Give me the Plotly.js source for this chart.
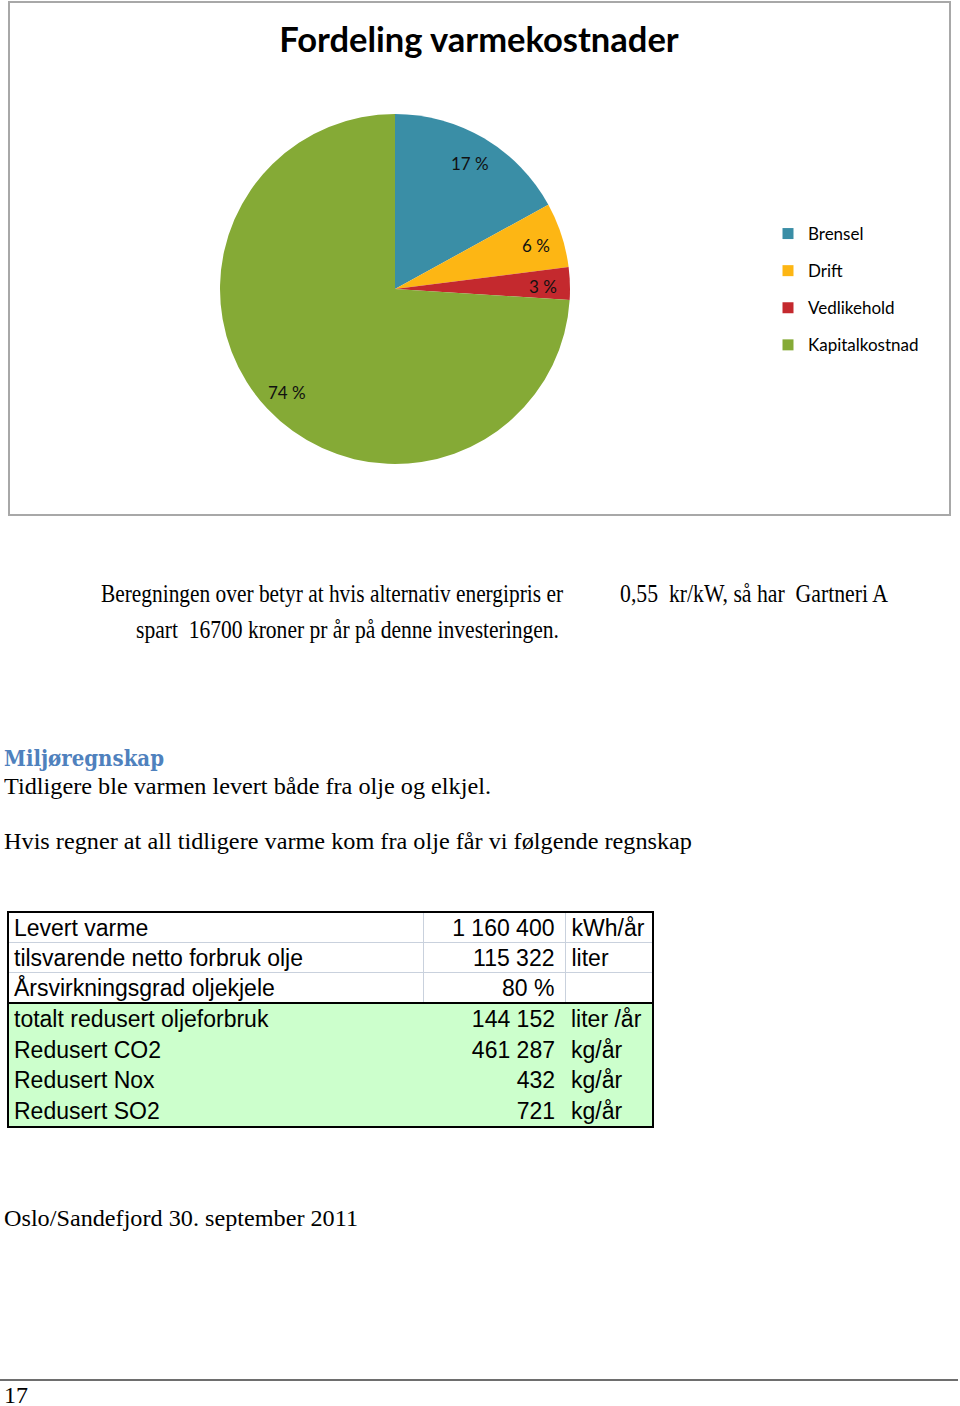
<!DOCTYPE html>
<html>
<head>
<meta charset="utf-8">
<script src="https://cdn.plot.ly/plotly-3.0.1.min.js"></script>
<style>
  html, body { margin: 0; padding: 0; background: #fff; }
  body { width: 960px; height: 1406px; position: relative; overflow: hidden; }
  #chart { position: absolute; left: 0; top: 0; width: 960px; height: 520px; }
  .t { position: absolute; white-space: pre; font-family: "Liberation Serif", "Times New Roman", serif;
       color: #000; transform-origin: 0 50%; line-height: 30px; height: 30px; }
  table.tb { position: absolute; left: 7px; top: 911px; border-collapse: collapse;
             font-family: "Liberation Sans", Arial, sans-serif; font-size: 23px; color: #000;
             border: 2px solid #000; table-layout: fixed; }
  table.tb td { padding: 0; line-height: 24px; white-space: nowrap; overflow: visible; }
  table.tb td.c1 { padding-left: 5px; text-align: left; }
  table.tb td.c2 { padding-right: 10px; text-align: right; }
  table.tb td.c3 { padding-left: 6px; text-align: left; }
  table.tb tr.w td { background: #fff; border: 1px solid #c9d1dd; height: 29px; }
  table.tb tr.w.last td { border-bottom: 2px solid #000; }
  table.tb tr.g td { background: #ccffcc; border: none; height: 30.5px; }
  #hr { position: absolute; left: 0; top: 1379px; width: 958px; height: 2px; background: #6e6e6e; }
</style>
</head>
<body>
<div id="chart"></div>

<div class="t" data-w="462" style="left:101px; top:579px; font-size:26px;">Beregningen over betyr at hvis alternativ energipris er</div>
<div class="t" data-w="423" style="left:136px; top:615px; font-size:26px;">spart  16700 kroner pr år på denne investeringen.</div>
<div class="t" data-w="268" style="left:620px; top:579px; font-size:26px;">0,55  kr/kW, så har  Gartneri A</div>

<div class="t" data-w="160" style="left:4px; top:743px; font-size:23px; font-weight:bold; color:#4f81bd; font-family:'DejaVu Serif', serif;">Miljøregnskap</div>
<div class="t" data-w="487" style="left:4px; top:771px; font-size:24px;">Tidligere ble varmen levert både fra olje og elkjel.</div>
<div class="t" data-w="688" style="left:4px; top:826px; font-size:24px;">Hvis regner at all tidligere varme kom fra olje får vi følgende regnskap</div>

<table class="tb" id="tbl">
  <colgroup><col style="width:415px"><col style="width:142px"><col style="width:88px"></colgroup>
  <tbody id="tbody"></tbody>
</table>

<div class="t" data-w="354" style="left:4px; top:1203px; font-size:24px;">Oslo/Sandefjord 30. september 2011</div>
<div id="hr"></div>
<div class="t" data-w="24" style="left:4px; top:1381px; font-size:23px;">17</div>

<script>
// ---- Chart data ----
var categories = ["Brensel", "Drift", "Vedlikehold", "Kapitalkostnad"];
var shares = [17, 6, 3, 74];
var colors = ["#3a8ea6", "#fdb614", "#c4292e", "#85aa36"];
var chartTitle = "Fordeling varmekostnader";

// ---- Table data ----
var tableLabels = ["Levert varme", "tilsvarende netto forbruk olje", "Årsvirkningsgrad oljekjele",
                   "totalt redusert oljeforbruk", "Redusert CO2", "Redusert Nox", "Redusert SO2"];
var tableValues = ["1 160 400", "115 322", "80 %", "144 152", "461 287", "432", "721"];
var tableUnits = ["kWh/år", "liter", "", "liter /år", "kg/år", "kg/år", "kg/år"];
var whiteRowCount = 3;

// Build table
var tb = document.getElementById('tbody');
for (var i = 0; i < tableLabels.length; i++) {
  var tr = document.createElement('tr');
  tr.className = i < whiteRowCount ? ('w' + (i === whiteRowCount - 1 ? ' last' : '')) : 'g';
  var c1 = document.createElement('td'); c1.className = 'c1'; c1.textContent = tableLabels[i];
  var c2 = document.createElement('td'); c2.className = 'c2'; c2.textContent = tableValues[i];
  var c3 = document.createElement('td'); c3.className = 'c3'; c3.textContent = tableUnits[i];
  tr.appendChild(c1); tr.appendChild(c2); tr.appendChild(c3);
  tb.appendChild(tr);
}

// Fit text widths
document.querySelectorAll('.t[data-w]').forEach(function (el) {
  var target = parseFloat(el.getAttribute('data-w'));
  var w = el.getBoundingClientRect().width;
  if (w > 0) el.style.transform = 'scaleX(' + (target / w) + ')';
});

// ---- Pie geometry (pixels in 960x520 chart) ----
var W = 960, H = 520;
var cx = 395, cy = 289, R = 175;
var labelRadius = 0.845;

var pie = {
  type: 'pie',
  labels: categories,
  values: shares,
  marker: { colors: colors, line: { width: 0 } },
  sort: false,
  direction: 'clockwise',
  rotation: 0,
  textinfo: 'none',
  hoverinfo: 'label+percent',
  showlegend: false,
  domain: { x: [(cx - R) / W, (cx + R) / W], y: [(H - cy - R) / H, (H - cy + R) / H] }
};

// Legend entries (one per category, so the entries can be spaced like the original)
var legendTraces = categories.map(function (c, i) {
  return {
    type: 'scatter', mode: 'markers', x: [null], y: [null], name: c,
    legendgroup: c, hoverinfo: 'skip',
    marker: { symbol: 'square', size: 11, color: colors[i] }
  };
});

// Percent labels placed at slice mid-angles
var total = shares.reduce(function (a, b) { return a + b; }, 0);
var cum = 0;
var annotations = shares.map(function (v) {
  var mid = (cum + v / 2) / total; cum += v;
  var th = mid * 2 * Math.PI;
  var px = cx + labelRadius * R * Math.sin(th);
  var py = cy - labelRadius * R * Math.cos(th) + 2;
  return {
    xref: 'paper', yref: 'paper', x: px / W, y: 1 - py / H,
    text: v + ' %', showarrow: false, xanchor: 'center', yanchor: 'middle',
    font: { family: 'Lato, "Open Sans", sans-serif', size: 17, color: '#111' }
  };
});

var layout = {
  width: W, height: H,
  margin: { l: 0, r: 0, t: 0, b: 0, pad: 0 },
  paper_bgcolor: 'rgba(0,0,0,0)', plot_bgcolor: 'rgba(0,0,0,0)',
  title: {
    text: chartTitle, x: 479 / W, xanchor: 'center', y: 1 - 40 / H, yanchor: 'middle',
    font: { family: 'Lato, "Open Sans", sans-serif', size: 34.5, color: '#000', weight: 700 }
  },
  xaxis: { visible: false }, yaxis: { visible: false },
  showlegend: true,
  legend: {
    x: 768 / W, xanchor: 'left', y: 1 - 216 / H, yanchor: 'top',
    tracegroupgap: 12, bgcolor: 'rgba(0,0,0,0)', borderwidth: 0,
    font: { family: 'Lato, "Open Sans", sans-serif', size: 17, color: '#000' }
  },
  annotations: annotations,
  shapes: [{
    type: 'rect', xref: 'paper', yref: 'paper',
    x0: 9 / W, x1: 950 / W, y0: 1 - 515 / H, y1: 1 - 2 / H,
    line: { color: '#a8a8a8', width: 2 }, fillcolor: 'rgba(0,0,0,0)', layer: 'below'
  }]
};

Plotly.newPlot('chart', [pie].concat(legendTraces), layout, { displayModeBar: false, staticPlot: true });
</script>
</body>
</html>
